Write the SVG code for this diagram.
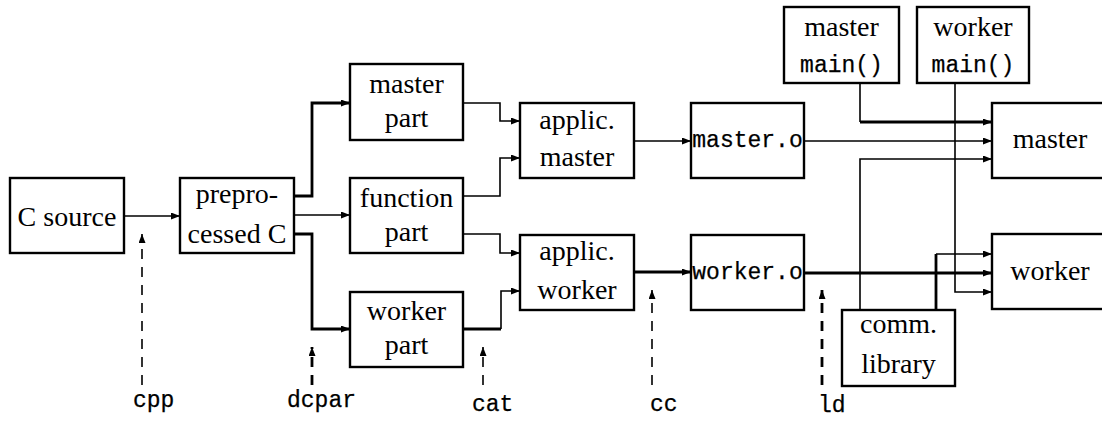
<svg xmlns="http://www.w3.org/2000/svg" width="1102" height="423" viewBox="0 0 1102 423">
  <style>
    .box { fill: #fff; stroke: #000; stroke-width: 2.4; }
    .rm { font-family: "Liberation Serif", "Times New Roman", serif; font-size: 28px; text-anchor: middle; fill: #000; }
    .tt { font-family: "Liberation Mono", "Courier New", monospace; font-size: 23px; fill: #000; stroke: #000; stroke-width: 0.25; }
    .ttc { text-anchor: middle; }
    .thin { fill: none; stroke: #000; stroke-width: 1.6; }
    .thick { fill: none; stroke: #000; stroke-width: 2.8; }
    .dash { fill: none; stroke: #000; stroke-width: 1.6; stroke-dasharray: 10 8; }
    .dashb { fill: none; stroke: #000; stroke-width: 2.8; stroke-dasharray: 10 8; }
  </style>
  <defs>
    <marker id="ah" markerUnits="userSpaceOnUse" markerWidth="10" markerHeight="8" refX="9" refY="3.5" orient="auto">
      <path d="M0,0 L9,3.5 L0,7 z" fill="#000"/>
    </marker>
  </defs>

  <!-- connectors -->
  <g id="connectors">
    <path class="thin" d="M124,216 H180" marker-end="url(#ah)"/>
    <path class="thick" d="M294,196 H312 V103 H350" marker-end="url(#ah)"/>
    <path class="thin" d="M294,215 H350" marker-end="url(#ah)"/>
    <path class="thick" d="M294,234 H312 V329 H350" marker-end="url(#ah)"/>

    <path class="thin" d="M463,103 H500 V121 H520" marker-end="url(#ah)"/>
    <path class="thin" d="M463,196 H500 V158 H520" marker-end="url(#ah)"/>
    <path class="thin" d="M463,234 H500 V253 H520" marker-end="url(#ah)"/>
    <path class="thin" d="M501,329 V291 H520" marker-end="url(#ah)"/>
    <path class="thick" d="M463,329 H501"/>

    <path class="thin" d="M634,141 H691" marker-end="url(#ah)"/>
    <path class="thick" d="M634,272 H691" marker-end="url(#ah)"/>

    <path class="thin" d="M804,141 H992" marker-end="url(#ah)"/>
    <path class="thick" d="M804,273 H992" marker-end="url(#ah)"/>
    <path class="thin" d="M860,83 V122"/>
    <path class="thick" d="M860,122 H992" marker-end="url(#ah)"/>
    <path class="thin" d="M860,310 V159 H992" marker-end="url(#ah)"/>
    <path class="thin" d="M955,83 V292 H992" marker-end="url(#ah)"/>
    <path class="thick" d="M936,310 V254"/>
    <path class="thin" d="M936,254 H992" marker-end="url(#ah)"/>

    <!-- tool annotations -->
    <path class="dash" d="M142,385 V234" marker-end="url(#ah)"/>
    <path class="dashb" d="M312,385 V347" marker-end="url(#ah)"/>
    <path class="dash" d="M483,385 V347" marker-end="url(#ah)"/>
    <path class="dash" d="M652,385 V290" marker-end="url(#ah)"/>
    <path class="dashb" d="M822,385 V290" marker-end="url(#ah)"/>
  </g>

  <g id="c-source">
    <rect class="box" x="10" y="178" width="114" height="75"/>
    <text class="rm" x="67" y="226">C source</text>
  </g>
  <g id="preprocessed-c">
    <rect class="box" x="180" y="178" width="114" height="75"/>
    <text class="rm" x="237" y="203">prepro-</text>
    <text class="rm" x="237" y="243">cessed C</text>
  </g>
  <g id="master-part">
    <rect class="box" x="350" y="64" width="113" height="76"/>
    <text class="rm" x="406.5" y="93">master</text>
    <text class="rm" x="406.5" y="127">part</text>
  </g>
  <g id="function-part">
    <rect class="box" x="350" y="178" width="113" height="75"/>
    <text class="rm" x="406.5" y="207">function</text>
    <text class="rm" x="406.5" y="241">part</text>
  </g>
  <g id="worker-part">
    <rect class="box" x="350" y="292" width="113" height="75"/>
    <text class="rm" x="406.5" y="320">worker</text>
    <text class="rm" x="406.5" y="354">part</text>
  </g>
  <g id="applic-master">
    <rect class="box" x="520" y="103" width="114" height="75"/>
    <text class="rm" x="577" y="129">applic.</text>
    <text class="rm" x="577" y="166">master</text>
  </g>
  <g id="applic-worker">
    <rect class="box" x="520" y="235" width="114" height="75"/>
    <text class="rm" x="577" y="260">applic.</text>
    <text class="rm" x="577" y="299">worker</text>
  </g>
  <g id="master-o">
    <rect class="box" x="691" y="103" width="113" height="75"/>
    <text class="tt ttc" x="747.5" y="147">master.o</text>
  </g>
  <g id="worker-o">
    <rect class="box" x="691" y="235" width="113" height="75"/>
    <text class="tt ttc" x="747.5" y="279">worker.o</text>
  </g>
  <g id="master-main">
    <rect class="box" x="784" y="7" width="115" height="76"/>
    <text class="rm" x="841.5" y="36">master</text>
    <text class="tt ttc" x="841.5" y="72">main()</text>
  </g>
  <g id="worker-main">
    <rect class="box" x="917" y="7" width="112" height="76"/>
    <text class="rm" x="973" y="36">worker</text>
    <text class="tt ttc" x="973" y="72">main()</text>
  </g>
  <g id="master">
    <rect class="box" x="992" y="103" width="115" height="75"/>
    <text class="rm" x="1050" y="148">master</text>
  </g>
  <g id="worker">
    <rect class="box" x="992" y="234" width="115" height="75"/>
    <text class="rm" x="1050" y="280">worker</text>
  </g>
  <g id="comm-library">
    <rect class="box" x="842" y="310" width="113" height="76"/>
    <text class="rm" x="898.5" y="333">comm.</text>
    <text class="rm" x="898.5" y="373">library</text>
  </g>

  <g id="tool-labels">
    <text class="tt" x="133" y="407">cpp</text>
    <text class="tt" x="287" y="407">dcpar</text>
    <text class="tt" x="472" y="411">cat</text>
    <text class="tt" x="650" y="411">cc</text>
    <text class="tt" x="818" y="412">ld</text>
  </g>
</svg>
